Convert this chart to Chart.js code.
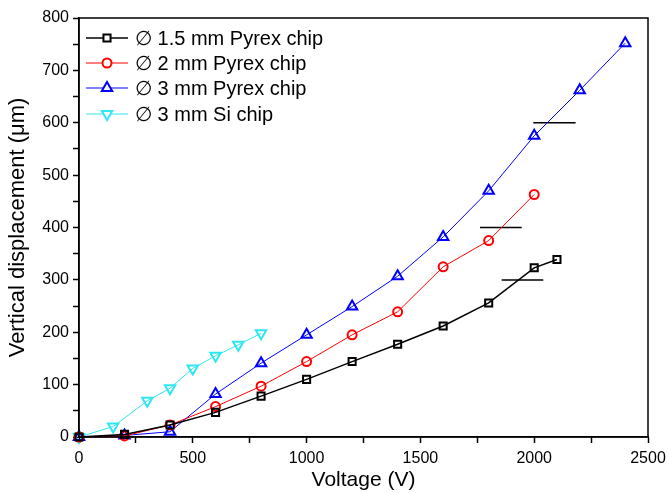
<!DOCTYPE html>
<html>
<head>
<meta charset="utf-8">
<script src="https://cdn.jsdelivr.net/npm/chart.js@4.4.0/dist/chart.umd.min.js"></script>
<style>
	body { margin: 0; background: #fff; }
	#wrap { width: 669px; height: 493px; }
</style>
</head>
<body>
<div id="wrap"><canvas id="myChart" width="669" height="493"></canvas></div>
<script>
	'use strict';

	var voltage15 = [0, 200, 400, 600, 800, 1000, 1200, 1400, 1600, 1800, 2000, 2100];
	var pyrex15 = [0, 5, 23, 47, 78, 110, 144, 177, 212, 256, 323, 339];

	var voltage2 = [0, 200, 400, 600, 800, 1000, 1200, 1400, 1600, 1800, 2000];
	var pyrex2 = [0, 2, 23, 58, 97, 144, 195, 239, 325, 375, 463];

	var voltage3 = [0, 200, 400, 600, 800, 1000, 1200, 1400, 1600, 1800, 2000, 2200, 2400];
	var pyrex3 = [0, 3, 10, 82, 141, 195, 249, 307, 382, 470, 575, 662, 752];

	var voltageSi = [0, 150, 300, 400, 500, 600, 700, 800];
	var si3 = [0, 20, 69, 93, 131, 155, 176, 198];

	// short horizontal black marks
	var markLevels = [600, 400, 300];
	var markFrom = [1996, 1762, 1857];
	var markTo = [2182, 1945, 2040];

	var FONT = "'Liberation Sans', Arial, sans-serif";

	function pts(xs, ys) {
		return xs.map(function(x, i) { return { x: x, y: ys[i] }; });
	}

	var series = [
		{ label: "\u2205 1.5 mm Pyrex chip", x: voltage15, y: pyrex15, color: "#000000", style: "rect", rot: 0, r: 5, lw: 1.5 },
		{ label: "\u2205 2 mm Pyrex chip", x: voltage2, y: pyrex2, color: "#ff0000", style: "circle", rot: 0, r: 4.5, lw: 1 },
		{ label: "\u2205 3 mm Pyrex chip", x: voltage3, y: pyrex3, color: "#0000ff", style: "triangle", rot: 0, r: 6, lw: 1 },
		{ label: "\u2205 3 mm Si chip", x: voltageSi, y: si3, color: "#30e6f0", style: "triangle", rot: 180, r: 6, lw: 1 }
	];

	var datasets = series.map(function(s) {
		return {
			label: s.label,
			data: pts(s.x, s.y),
			borderColor: s.color,
			backgroundColor: "rgba(0,0,0,0)",
			borderWidth: s.lw,
			pointStyle: s.style,
			pointRotation: s.rot,
			pointRadius: s.r,
			pointBorderWidth: 2,
			pointBorderColor: s.color,
			pointBackgroundColor: "rgba(0,0,0,0)",
			tension: 0,
			fill: false,
			clip: false
		};
	});

	markLevels.forEach(function(v, i) {
		datasets.push({
			label: "",
			data: [{ x: markFrom[i], y: v }, { x: markTo[i], y: v }],
			borderColor: "#000000",
			borderWidth: 1.5,
			pointRadius: 0,
			fill: false
		});
	});

	// frame + in-plot legend
	var framePlugin = {
		id: 'framePlugin',
		afterDraw: function(chart) {
			var ctx = chart.ctx, a = chart.chartArea;
			ctx.save();
			ctx.strokeStyle = "#000";
			ctx.lineWidth = 1.5;
			ctx.strokeRect(a.left, a.top, a.right - a.left, a.bottom - a.top);

			var rowY = [38, 63, 88, 114];
			ctx.font = "20px " + FONT;
			ctx.textBaseline = "middle";
			series.forEach(function(s, i) {
				var y = rowY[i];
				ctx.strokeStyle = s.color;
				ctx.lineWidth = s.lw;
				ctx.beginPath();
				ctx.moveTo(86, y);
				ctx.lineTo(128, y);
				ctx.stroke();
				ctx.lineWidth = 2;
				ctx.fillStyle = "#fff";
				Chart.helpers.drawPoint(ctx, { pointStyle: s.style, rotation: s.rot, radius: s.r, borderWidth: 2 }, 107, y);
				ctx.fillStyle = "#000";
				ctx.fillText(s.label, 135, y + 1);
			});
			ctx.restore();
		}
	};

	var ctx = document.getElementById("myChart");

	var myChart = new Chart(ctx, {
		type: 'line',
		data: { datasets: datasets },
		plugins: [framePlugin],
		options: {
			responsive: false,
			animation: false,
			layout: { padding: { left: 0, top: 18, right: 21, bottom: 0 } },
			plugins: {
				legend: { display: false },
				tooltip: { enabled: false }
			},
			scales: {
				x: {
					type: 'linear',
					min: 0,
					max: 2500,
					afterFit: function(s) {
						s.height = 56;
						s.paddingLeft = 0;
						s.paddingRight = 0;
					},
					grid: { drawOnChartArea: false, drawTicks: true, tickLength: 6, color: "#000", tickWidth: 1.5 },
					border: { color: "#000", width: 1.5 },
					ticks: {
						stepSize: 250,
						autoSkip: false,
						maxRotation: 0,
						padding: 6,
						color: "#000",
						font: { family: FONT, size: 16 },
						callback: function(v) { return v % 500 === 0 ? v : ''; }
					},
					title: {
						display: true,
						text: "Voltage (V)",
						color: "#000",
						font: { family: FONT, size: 21 },
						padding: { top: 0, bottom: 0 }
					}
				},
				y: {
					type: 'linear',
					min: 0,
					max: 800,
					afterFit: function(s) {
						s.width = 79;
						s.paddingTop = 0;
						s.paddingBottom = 0;
					},
					grid: { drawOnChartArea: false, drawTicks: true, tickLength: 6, color: "#000", tickWidth: 1.5 },
					border: { color: "#000", width: 1.5 },
					ticks: {
						stepSize: 50,
						autoSkip: false,
						padding: 4,
						color: "#000",
						font: { family: FONT, size: 16 },
						callback: function(v) { return v % 100 === 0 ? v : ''; }
					},
					title: {
						display: true,
						text: "Vertical displacement (\u03bcm)",
						color: "#000",
						font: { family: FONT, size: 22 },
						padding: { top: 5, bottom: 0 }
					}
				}
			}
		}
	});
</script>
</body>
</html>
